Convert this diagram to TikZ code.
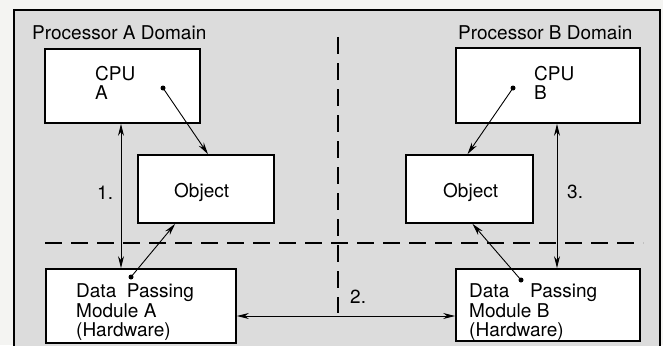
\documentclass[tikz,border=0pt]{standalone}
\usepackage{fontspec}
\setmainfont{TeX Gyre Heros}
\usetikzlibrary{arrows.meta,calc}
\definecolor{bggray}{HTML}{DCDCDC}
\definecolor{pagebg}{HTML}{F4F4F2}
\begin{document}
\begin{tikzpicture}[x=1pt,y=-1pt,
  box/.style={draw=black,fill=white,line width=1.7pt,inner sep=0pt,minimum width=#1},
  txt/.style={anchor=base west,inner sep=0pt,font=\fontsize{19}{21}\selectfont},
  conn/.style={line width=0.9pt,-{Stealth[length=12pt,width=6pt]}},
  bconn/.style={line width=0.9pt,{Stealth[length=12pt,width=6pt]}-{Stealth[length=12pt,width=6pt]}},
  sep/.style={line width=2.8pt,dash pattern=on 17pt off 9pt},
  dotm/.style={circle,fill=black,inner sep=0pt,minimum size=5pt}]
\useasboundingbox (0,0) rectangle (663,345);
\fill[pagebg] (0,0) rectangle (663,345);
\draw[fill=bggray,line width=1.4pt] (14,10) rectangle (660,352);
% separators
\coordinate (hsL) at (45,243);
\coordinate (hsR) at (643,243);
\coordinate (vsT) at (338,37);
\coordinate (vsB) at (338,313);
\draw[sep] (hsL) -- (hsR);
\draw[sep] (vsT) -- (vsB);
% titles
\node[txt] (tA) at (32,40) {Processor A Domain};
\node[txt] (tB) at (458,40) {Processor B Domain};
% boxes
\node[box=155pt,minimum height=74pt] (cpuA) at (122.5,86) {};
\node[box=136pt,minimum height=68pt] (objA) at (206,189) {};
\node[box=190pt,minimum height=74pt] (dpmA) at (141,306) {};
\node[box=184pt,minimum height=75pt] (cpuB) at (548,85.5) {};
\node[box=127pt,minimum height=68pt] (objB) at (469.5,189) {};
\node[box=184pt,minimum height=72pt] (dpmB) at (548,305) {};
% box texts
\node[txt] (cpuAt1) at (95,80) {CPU};
\node[txt] (cpuAt2) at (95,99.5) {A};
\node[txt] (cpuBt1) at (534,80) {CPU};
\node[txt] (cpuBt2) at (534,99.5) {B};
\node[txt] (objAt) at (174,197) {Object};
\node[txt] (objBt) at (443,197) {Object};
\node[txt] (dpmAt1) at (76,297) {Data\ \ Passing};
\node[txt] (dpmAt2) at (76,317) {Module A};
\node[txt] (dpmAt3) at (76,336.5) {(Hardware)};
\node[txt] (dpmBt1) at (469,297) {Data};
\node[txt] (dpmBt1b) at (530,297) {Passing};
\node[txt] (dpmBt2) at (469,317) {Module B};
\node[txt] (dpmBt3) at (469,336.5) {(Hardware)};
% labels
\node[txt] (l1) at (97,199) {1.};
\node[txt] (l2) at (350,303) {2.};
\node[txt] (l3) at (567,198) {3.};
% dots
\node[dotm] (dA1) at (163,88) {};
\node[dotm] (dA2) at (131,277) {};
\node[dotm] (dB1) at (513,88) {};
\node[dotm] (dB2) at (521,280) {};
% connectors
\coordinate (x1) at (121,0);
\coordinate (x3) at (557,0);
\coordinate (y2) at (0,316);
\draw[bconn] (cpuA.south -| x1) -- (dpmA.north -| x1);
\draw[bconn] (cpuB.south -| x3) -- (dpmB.north -| x3);
\draw[bconn] (dpmA.east |- y2) -- (dpmB.west |- y2);
\draw[conn] (dA1.center) -- ($(objA.north)+(2,0)$);
\draw[conn] (dB1.center) -- ($(objB.north)+(-2,0)$);
\draw[conn] (dA2.center) -- ($(objA.south west)+(38,0)$);
\draw[conn] (dB2.center) -- ($(objB.south)+(3,0)$);
\end{tikzpicture}
\end{document}
